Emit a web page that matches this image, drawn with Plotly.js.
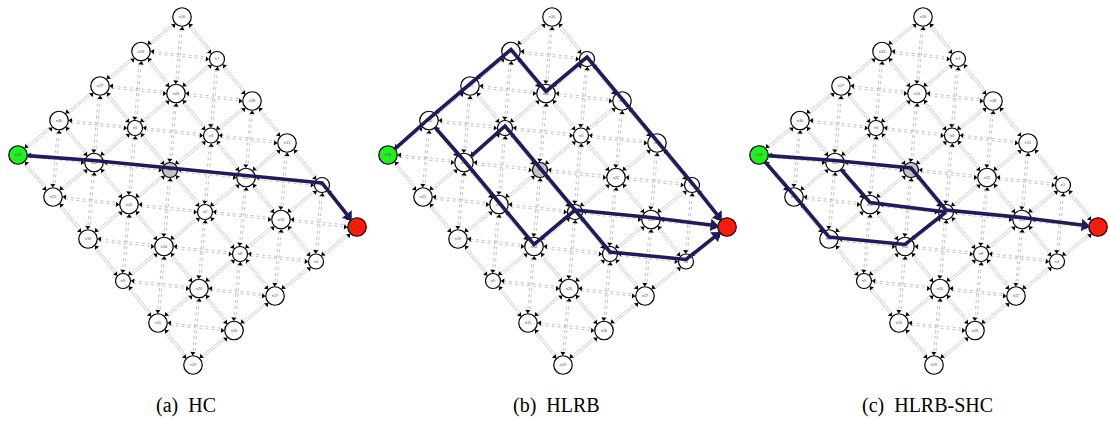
<!DOCTYPE html>
<html><head><meta charset="utf-8">
<script src="https://cdn.plot.ly/plotly-3.0.1.min.js"></script>
<style>html,body{margin:0;padding:0;background:#fff}#chart{width:1110px;height:421px}</style>
</head><body><div id="chart"></div>
<script>
// ---------- data ----------
// node names on the lattice: rows go down-right, columns go up-right
const gridRows = [
  ['n18','n30','n27','n23','n16'],
  ['n21','n12','n6','n24','n7'],
  ['n19','n10','n0','n3','n28'],
  ['n9','n14','n2','n22','n11'],
  ['n15','n20','n8','n13','n1'],
  ['n29','n26','n17','n4','n25']
];
const startNode = 'n18';
const goalNode = 'n25';
const blockedNode = 'n0';
const panelLabels = ['(a)  HC', '(b)  HLRB', '(c)  HLRB-SHC'];
const pathsHC = [
  ['n18','n12','n0','n22','n1','n25']
];
const pathsHLRB = [
  ['n18','n30','n27','n23','n24','n7','n28','n11','n1','n25'],
  ['n30','n12','n10','n14','n2','n8','n4','n25'],
  ['n12','n6','n0','n2','n13','n25']
];
const pathsHLRBSHC = [
  ['n18','n12','n0','n2','n13','n25'],
  ['n12','n10','n2'],
  ['n18','n21','n19','n14','n2']
];
const panelPaths = [pathsHC, pathsHLRB, pathsHLRBSHC];

// ---------- geometry / style ----------
const W = 1110, H = 421;
const panelOffsetX = [0, 370, 741];
const ORIGIN = [18, 155], U = [41, -34.5], V = [35, 42];
const PATH_COLOR = '#1f1b5c';

const cell = {};
gridRows.forEach((row, j) => row.forEach((name, i) => { cell[name] = [i, j]; }));
function diam(name) { return name.length <= 2 ? 15 : 18.5; }
function pos(name, p) {
  const [i, j] = cell[name];
  return [ORIGIN[0] + panelOffsetX[p] + i * U[0] + j * V[0], ORIGIN[1] + i * U[1] + j * V[1]];
}
function fillOf(name) {
  if (name === startNode) return '#1ff01f';
  if (name === goalNode) return '#ff1a08';
  if (name === blockedNode) return '#c4c4c4';
  return '#ffffff';
}
function angleOf(dx, dy) { return Math.atan2(dx, -dy) * 180 / Math.PI; }

// lattice edges: [di, dj, dotted]
const dirs = [[1, 0, false], [0, 1, false], [1, 1, true], [-1, 1, true]];
const nameAt = (i, j) => (gridRows[j] && gridRows[j][i]) || null;

const traces = [];
const annotations = [];

for (let p = 0; p < 3; p++) {
  const solid = {x: [], y: []}, dotted = {x: [], y: []};
  const heads = {x: [], y: [], a: []};
  gridRows.forEach((row, j) => row.forEach((a, i) => {
    dirs.forEach(([di, dj, dot]) => {
      const b = nameAt(i + di, j + dj);
      if (!b) return;
      const A = pos(a, p), B = pos(b, p);
      const dx = B[0] - A[0], dy = B[1] - A[1], L = Math.hypot(dx, dy);
      const ux = dx / L, uy = dy / L, nx = -uy, ny = ux;
      const ra = diam(a) / 2 + 2.5, rb = diam(b) / 2 + 2.5;
      const tgt = dot ? dotted : solid;
      [1.1, -1.1].forEach((off, k) => {
        const sx = A[0] + ux * ra + nx * off, sy = A[1] + uy * ra + ny * off;
        const ex = B[0] - ux * rb + nx * off, ey = B[1] - uy * rb + ny * off;
        tgt.x.push(sx, ex, null); tgt.y.push(sy, ey, null);
        if (k === 0) { heads.x.push(ex); heads.y.push(ey); heads.a.push(angleOf(ux, uy)); }
        else { heads.x.push(sx); heads.y.push(sy); heads.a.push(angleOf(-ux, -uy)); }
      });
    });
  }));
  traces.push({x: solid.x, y: solid.y, mode: 'lines', hoverinfo: 'skip', showlegend: false,
    line: {color: '#b0b0b0', width: 0.6}});
  traces.push({x: dotted.x, y: dotted.y, mode: 'lines', hoverinfo: 'skip', showlegend: false,
    line: {color: '#9a9a9a', width: 0.6, dash: 'dot'}});
  traces.push({x: heads.x, y: heads.y, mode: 'markers', hoverinfo: 'skip', showlegend: false,
    marker: {symbol: 'triangle-up', size: 4.5, angle: heads.a, color: '#000', opacity: 1, line: {width: 0}}});

  // nodes
  const names = gridRows.flat();
  const np = names.map(n => pos(n, p));
  traces.push({x: np.map(q => q[0]), y: np.map(q => q[1]), mode: 'markers+text', text: names,
    textposition: 'middle center', hoverinfo: 'skip', showlegend: false,
    textfont: {family: 'Liberation Sans', size: 4, color: '#555'},
    marker: {symbol: 'circle', size: names.map(diam), color: names.map(fillOf), opacity: 1,
      line: {color: '#000', width: 1.2}}});

  // paths
  panelPaths[p].forEach(path => {
    const pts = path.map((n, k) => {
      const q = pos(n, p);
      return (k === 0 || k === path.length - 1) ? q : [q[0], q[1] - 2];
    });
    const s0 = pts[0], s1 = pts[1];
    let dx = s1[0] - s0[0], dy = s1[1] - s0[1], L = Math.hypot(dx, dy);
    const r0 = diam(path[0]) / 2;
    pts[0] = [s0[0] + dx / L * r0, s0[1] + dy / L * r0];
    let endArrow = null;
    if (path[path.length - 1] === goalNode) {
      const e1 = pts[pts.length - 1], e0 = pts[pts.length - 2];
      dx = e1[0] - e0[0]; dy = e1[1] - e0[1]; L = Math.hypot(dx, dy);
      const ux = dx / L, uy = dy / L, rg = diam(goalNode) / 2;
      pts[pts.length - 1] = [e1[0] - ux * (rg + 7), e1[1] - uy * (rg + 7)];
      endArrow = {x: e1[0] - ux * (rg + 4.5), y: e1[1] - uy * (rg + 4.5), a: angleOf(ux, uy)};
    }
    traces.push({x: pts.map(q => q[0]), y: pts.map(q => q[1]), mode: 'lines', hoverinfo: 'skip',
      showlegend: false, line: {color: PATH_COLOR, width: 3.6}});
    if (endArrow) {
      traces.push({x: [endArrow.x], y: [endArrow.y], mode: 'markers', hoverinfo: 'skip', showlegend: false,
        marker: {symbol: 'triangle-up', size: 11, angle: [endArrow.a], color: PATH_COLOR, opacity: 1, line: {width: 0}}});
    }
  });

  annotations.push({x: 186 + panelOffsetX[p], y: 405, xref: 'x', yref: 'y', text: panelLabels[p],
    showarrow: false, xanchor: 'center', yanchor: 'middle',
    font: {family: 'Liberation Serif', size: 20, color: '#000'}});
}

const layout = {
  width: W, height: H, autosize: false,
  margin: {l: 0, r: 0, t: 0, b: 0, pad: 0},
  paper_bgcolor: '#fff', plot_bgcolor: '#fff',
  xaxis: {range: [0, W], visible: false, fixedrange: true},
  yaxis: {range: [H, 0], visible: false, fixedrange: true},
  annotations: annotations,
  showlegend: false
};
Plotly.newPlot('chart', traces, layout, {staticPlot: true, displayModeBar: false});
</script>
</body></html>
